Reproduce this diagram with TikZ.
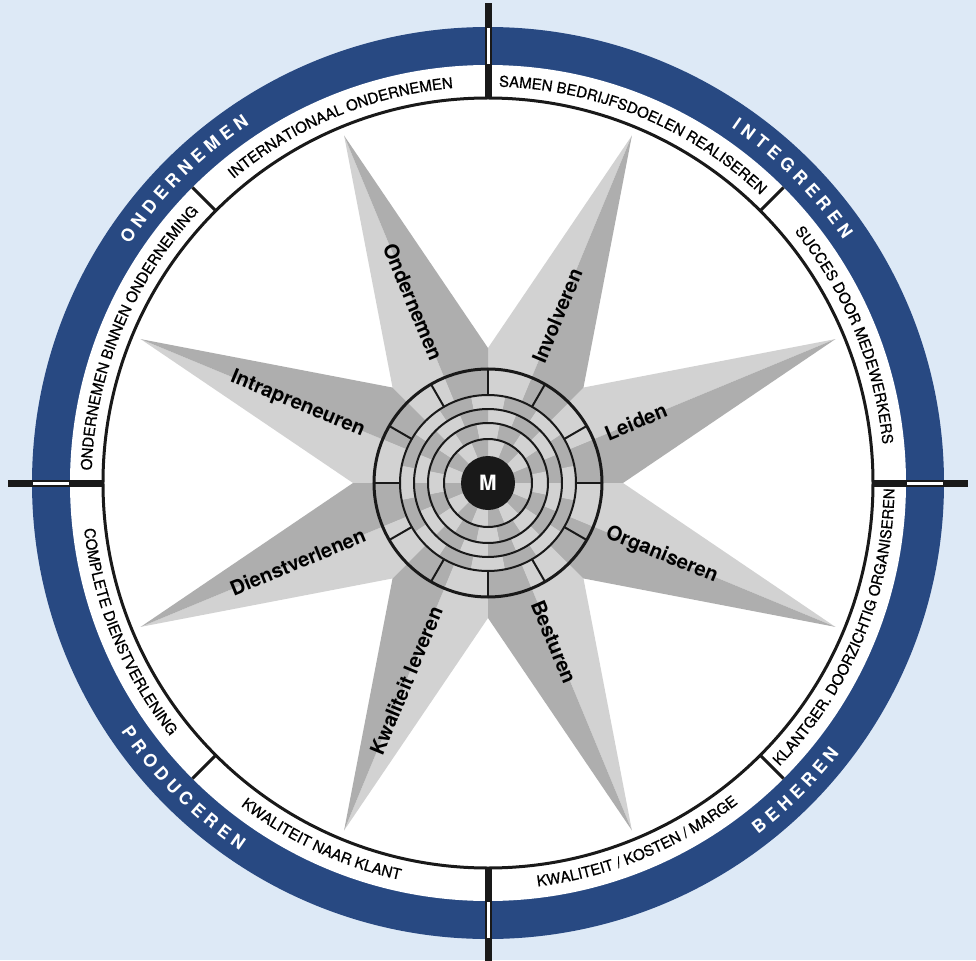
\documentclass[tikz,border=0pt]{standalone}
\usepackage{fontspec}
\setmainfont{TeX Gyre Heros}
\newfontfamily\ringfam[FakeBold=0.6]{TeX Gyre Heros}
\usetikzlibrary{decorations.text}
\definecolor{bgblue}{RGB}{221,233,246}
\definecolor{ringblue}{RGB}{40,73,130}
\definecolor{raylight}{RGB}{210,210,210}
\definecolor{raydark}{RGB}{174,174,174}
\newcommand{\ringfont}{\ringfam\fontsize{8.5}{10}\selectfont}
\newcommand{\bandfont}{\bfseries\fontsize{10}{12}\selectfont}

\begin{document}
\begin{tikzpicture}[x=0.02cm, y=0.02cm,
    lbl/.style = {font=\bfseries\fontsize{11.5}{13}\selectfont, inner sep=1pt},
    axisline/.style = {draw=black!90, line width=0.14cm},
    sepline/.style = {draw=black!90, line width=0.06cm},
    ringline/.style = {draw=black!90, line width=0.06cm},
    thinline/.style = {draw=black!90, line width=0.04cm},
    ringtext/.style = {decorate, decoration={text along path, text align=center, text={|\ringfont|#1}}},
    bandtext/.style = {decorate, decoration={text along path, text align=center, text color=white, text={|\bandfont|#1}}}
]
    \fill[bgblue] (-488,-477) rectangle (488,483);
    \useasboundingbox (-488,-477) rectangle (488,483);

    % outer rings
    \fill[ringblue] (0,0) circle[radius=456];
    \fill[white] (0,0) circle[radius=418];

    % compass star
    \foreach \a in {22.5,67.5,...,337.5} {
        \fill[raylight] (0,0) -- (\a:376) -- ({\a+22.5}:135) -- cycle;
        \fill[raydark] (0,0) -- (\a:376) -- ({\a-22.5}:135) -- cycle;
    }

    % centre medallion
    \foreach \ri/\ro/\off in {27/44/0, 44/60/11.25, 60/74/0, 74/88/11.25, 88/114/0}
        \foreach \k in {0,...,15} {
            \pgfmathsetmacro{\sa}{\off+22.5*\k}
            \pgfmathsetmacro{\ea}{\sa+22.5}
            \ifodd\k \def\wc{raylight}\else \def\wc{raydark}\fi
            \fill[\wc] (\sa:\ri) arc[start angle=\sa, end angle=\ea, radius=\ri]
                -- (\ea:\ro) arc[start angle=\ea, end angle=\sa, radius=\ro] -- cycle;
        }
    \draw[ringline] (0,0) circle[radius=114];
    \foreach \r in {88,74,60,44}
        \draw[thinline] (0,0) circle[radius=\r];
    \foreach \a in {0,30,...,330}
        \draw[thinline] (\a:88) -- (\a:114);
    \fill[black!90] (0,0) circle[radius=27];
    \node[font=\bfseries\fontsize{12}{14}\selectfont, text=white] (mid) at (0,0) {M};

    % ring borders and axes
    \draw[ringline] (0,0) circle[radius=385];
    \foreach \a in {45,135,225,315}
        \draw[sepline] (\a:385) -- (\a:418);
    \foreach \a in {0,90,180,270} {
        \draw[axisline] (\a:385) -- (\a:480);
        \draw[white, line width=0.06cm] (\a:419) -- (\a:455);
    }

    % white ring texts
    \path[ringtext={ONDERNEMEN BINNEN ONDERNEMING}] (181.5:396.5) arc[start angle=181.5, end angle=133.5, radius=396.5];
    \path[ringtext={INTERNATIONAAL ONDERNEMEN}] (136.5:396.5) arc[start angle=136.5, end angle=88.5, radius=396.5];
    \path[ringtext={SAMEN BEDRIJFSDOELEN REALISEREN}] (91.5:396.5) arc[start angle=91.5, end angle=43.5, radius=396.5];
    \path[ringtext={SUCCES DOOR MEDEWERKERS}] (46.5:396.5) arc[start angle=46.5, end angle=-1.5, radius=396.5];
    \path[ringtext={KLANTGER. DOORZICHTIG ORGANISEREN}] (-47:406.5) arc[start angle=-47, end angle=2, radius=406.5];
    \path[ringtext={KWALITEIT / KOSTEN / MARGE}] (-91.5:406.5) arc[start angle=-91.5, end angle=-43.5, radius=406.5];
    \path[ringtext={KWALITEIT NAAR KLANT}] (221:406.5) arc[start angle=221, end angle=269, radius=406.5];
    \path[ringtext={COMPLETE DIENSTVERLENING}] (178.5:406.5) arc[start angle=178.5, end angle=226.5, radius=406.5];

    % blue ring texts
    \path[bandtext={O N D E R N E M E N}] (165:430.7) arc[start angle=165, end angle=105, radius=430.7];
    \path[bandtext={I N T E G R E R E N}] (75:430.7) arc[start angle=75, end angle=15, radius=430.7];
    \path[bandtext={B E H E R E N}] (285:443.3) arc[start angle=285, end angle=345, radius=443.3];
    \path[bandtext={P R O D U C E R E N}] (195:443.3) arc[start angle=195, end angle=255, radius=443.3];

    % star labels
    \node[lbl, rotate=-67.5] (ond) at (112.5:196) {Ondernemen};
    \node[lbl, rotate=67.5] (inv) at (67.5:181) {Involveren};
    \node[lbl, rotate=22.5] (lei) at (22.5:160) {Leiden};
    \node[lbl, rotate=-22.5] (org) at (-22.5:188) {Organiseren};
    \node[lbl, rotate=-67.5] (bes) at (-67.5:172) {Besturen};
    \node[lbl, rotate=67.5] (kwa) at (247.5:214) {Kwaliteit leveren};
    \node[lbl, rotate=22.5] (die) at (202.5:206) {Dienstverlenen};
    \node[lbl, rotate=-22.5] (int) at (157.5:206) {Intrapreneuren};
\end{tikzpicture}
\end{document}
